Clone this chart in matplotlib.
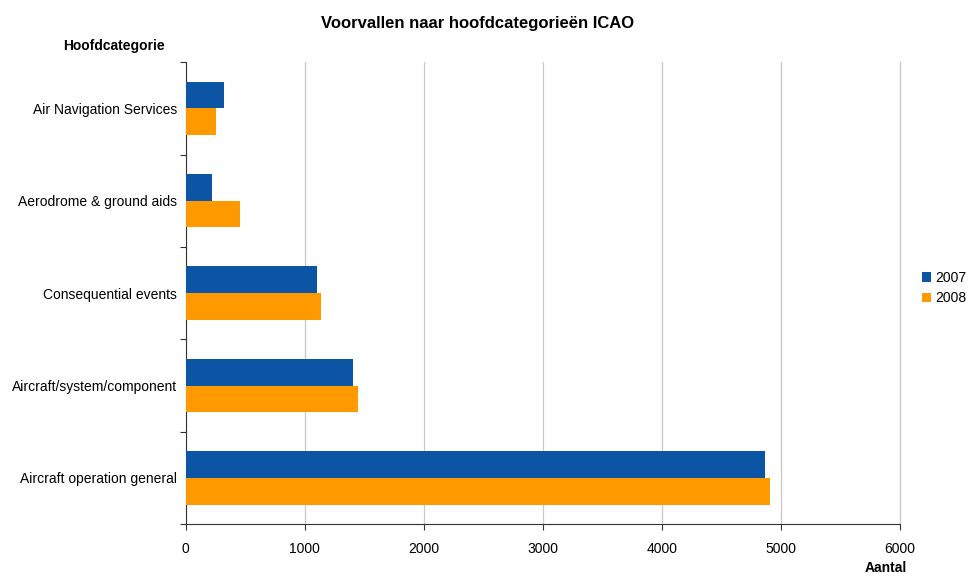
import matplotlib.pyplot as plt
import numpy as np

plt.rcParams['font.family'] = ['Liberation Sans', 'DejaVu Sans']

# data, top to bottom
categories = ["Air Navigation Services", "Aerodrome & ground aids", "Consequential events",
              "Aircraft/system/component", "Aircraft operation general"]
val_2007 = [319, 216, 1099, 1400, 4866]
val_2008 = [250, 452, 1133, 1442, 4908]

blue = '#0B55A4'
orange = '#FF9900'

fig = plt.figure(figsize=(9.68, 5.76), dpi=100)
ax = fig.add_axes([0.192, 0.090, 0.738, 0.802])

y = np.arange(len(categories))
h = 0.289
ax.barh(y - h / 2, val_2007, height=h, color=blue, label='2007', zorder=3)
ax.barh(y + h / 2, val_2008, height=h, color=orange, label='2008', zorder=3)

ax.set_ylim(len(categories) - 0.5, -0.5)
ax.set_xlim(0, 6000)
ax.set_xticks(range(0, 6001, 1000))
ax.set_yticks(y)
ax.set_yticklabels(categories)
ax.set_yticks(np.arange(-0.5, len(categories), 1), minor=True)
ax.tick_params(axis='y', which='major', length=0, pad=6.5, labelsize=10)
ax.tick_params(axis='y', which='minor', length=4, width=0.8, color='#333333')
ax.tick_params(axis='x', length=4, width=0.8, color='#333333', labelsize=10, pad=9)

ax.grid(axis='x', color='#C8C8C8', linewidth=0.9, zorder=0)
ax.axvline(6000, color='#C8C8C8', linewidth=0.9, zorder=0, clip_on=False)
for s in ['top', 'right']:
    ax.spines[s].set_visible(False)
ax.spines['left'].set_color('#333333')
ax.spines['bottom'].set_color('#333333')

fig.text(0.493, 0.960, "Voorvallen naar hoofdcategorieën ICAO", ha='center', va='center',
         fontsize=12, fontweight='bold')
fig.text(0.118, 0.921, "Hoofdcategorie", ha='center', va='center', fontsize=10, fontweight='bold')
fig.text(0.915, 0.002, "Aantal", ha='center', va='bottom', fontsize=10, fontweight='bold')

ax.legend(loc='center left', bbox_to_anchor=(0.952, 0.5), bbox_transform=fig.transFigure,
          frameon=False, fontsize=10, handlelength=0.7, handleheight=0.7,
          handletextpad=0.3, labelspacing=0.5, borderpad=0, borderaxespad=0)

fig.savefig('out.png', dpi=100)
